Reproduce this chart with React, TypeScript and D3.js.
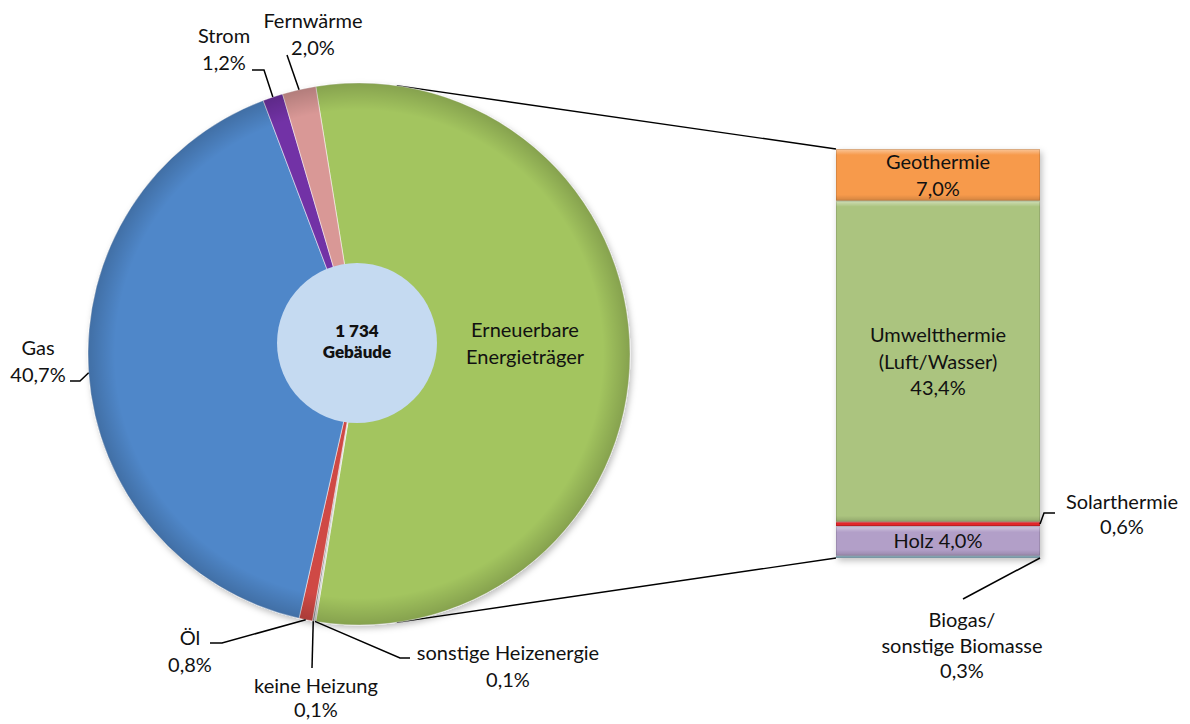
import React from 'react';
import * as d3 from 'd3';

// Pie: share of buildings by primary heating energy (%)
const pieLabels: string[] = ['Erneuerbare Energieträger', 'sonstige Heizenergie', 'keine Heizung', 'Öl', 'Gas', 'Strom', 'Fernwärme'];
const pieValues: number[] = [55.1, 0.1, 0.1, 0.8, 40.7, 1.2, 2.0];
const pieColors: string[] = ['#a3c55e', '#c9c9c9', '#7f7f7f', '#cf4a45', '#5087c9', '#7233a6', '#d99896'];
const pieTexts: string[] = ['', '0,1%', '0,1%', '0,8%', '40,7%', '1,2%', '2,0%'];

// Bar: breakdown of renewables (%)
const barLabels: string[] = ['Geothermie', 'Umweltthermie (Luft/Wasser)', 'Solarthermie', 'Holz', 'Biogas/ sonstige Biomasse'];
const barValues: number[] = [7.0, 43.4, 0.6, 4.0, 0.3];
const barColors: string[] = ['#f79a4c', '#abc47f', '#e2262c', '#b29fc8', '#8fb2c2'];
const barTexts: string[] = ['7,0%', '43,4%', '0,6%', '4,0%', '0,3%'];

const centerText: string[] = ['1 734', 'Gebäude'];

const width = 1190;
const height = 724;
const cx = 359;
const cy = 354;
const r = 271;
const font = 'Lato, "Open Sans", sans-serif';

export default function App() {
  const pie = d3.pie<number>().sort(null).value((d) => d);
  const span = (pieValues[0] / d3.sum(pieValues)) * Math.PI * 2;
  pie.startAngle(Math.PI / 2 - span / 2).endAngle(Math.PI / 2 - span / 2 + Math.PI * 2);
  const arcs = pie(pieValues);
  const arc = d3.arc<d3.PieArcDatum<number>>().innerRadius(0).outerRadius(r);

  const pt = (a: number, rr: number): [number, number] => [cx + rr * Math.sin(a), cy - rr * Math.cos(a)];
  const mid = (i: number) => (arcs[i].startAngle + arcs[i].endAngle) / 2;

  // bar scale
  const barX0 = 836;
  const barX1 = 1040;
  const total = d3.sum(barValues);
  const y = d3.scaleLinear().domain([0, total]).range([149, 558]);
  const cum = barValues.map((v, i) => d3.sum(barValues.slice(0, i)));

  const connA = 8 * Math.PI / 180;
  const topPt = pt(connA, r);
  const botPt = pt(Math.PI - connA, r);

  const line = d3.line();
  const ts = 20;

  const lbl = (x: number, yy: number, lines: string[], size = ts, weight = 400, lh = 26.5) => (
    <text x={x} y={yy} textAnchor="middle" fontSize={size} fontWeight={weight} fontFamily={font} fill="#111">
      {lines.map((l, i) => (
        <tspan key={i} x={x} dy={i === 0 ? 0 : lh}>{l}</tspan>
      ))}
    </text>
  );

  const leaders: [number, number][][] = [
    [pt(mid(6), r), [287, 55]],
    [pt(mid(5), r), [264, 70], [252, 70]],
    [pt(mid(4), r), [80, 381], [70, 381]],
    [pt(mid(3), r), [222, 643], [210, 643]],
    [pt(mid(2), r), [312, 668]],
    [pt(mid(1), r), [400, 658], [410, 658]],
    [[1040, y(cum[2] + barValues[2] / 2)], [1044, 513], [1055, 513]],
    [[1040, y(total)], [963, 599]],
  ];

  return (
    <svg width={width} height={height} style={{ display: 'block', position: 'absolute', left: 0, top: 0 }}>
      <defs>
        <radialGradient id="pieShade" cx={cx} cy={cy} r={r} gradientUnits="userSpaceOnUse">
          <stop offset="0.9" stopColor="#000" stopOpacity="0" />
          <stop offset="1" stopColor="#000" stopOpacity="0.18" />
        </radialGradient>
        <filter id="shadow" x="-10%" y="-10%" width="120%" height="120%">
          <feDropShadow dx="2" dy="3" stdDeviation="3" floodColor="#000" floodOpacity="0.25" />
        </filter>
        <linearGradient id="barTop" x1="0" x2="0" y1="0" y2="1">
          <stop offset="0" stopColor="#fff" stopOpacity="0.45" />
          <stop offset="1" stopColor="#fff" stopOpacity="0" />
        </linearGradient>
        <linearGradient id="barBot" x1="0" x2="0" y1="0" y2="1">
          <stop offset="0" stopColor="#000" stopOpacity="0" />
          <stop offset="1" stopColor="#000" stopOpacity="0.15" />
        </linearGradient>
      </defs>
      <rect width={width} height={height} fill="#fff" />

      {/* connector lines */}
      <path d={line([topPt, [barX0, y(0)]]) || ''} stroke="#000" strokeWidth={1.4} fill="none" />
      <path d={line([botPt, [barX0, y(total)]]) || ''} stroke="#000" strokeWidth={1.4} fill="none" />

      {/* pie */}
      <g transform={`translate(${cx},${cy})`} filter="url(#shadow)">
        {arcs.map((a, i) => (
          <path key={pieLabels[i]} d={arc(a) || ''} fill={pieColors[i]} stroke="#fff" strokeWidth={0.5} />
        ))}
      </g>
      <circle cx={cx} cy={cy} r={r} fill="url(#pieShade)" />
      <circle cx={357} cy={343} r={80} fill="#c5daf1" />
      {lbl(357, 337, centerText, 17, 800, 21)}

      {/* bar */}
      <g filter="url(#shadow)">
        {barValues.map((v, i) => (
          <rect key={barLabels[i]} x={barX0} width={barX1 - barX0} y={y(cum[i])} height={y(cum[i] + v) - y(cum[i])} fill={barColors[i]} />
        ))}
      </g>
      {barValues.map((v, i) => {
        const h = y(cum[i] + v) - y(cum[i]);
        const b = Math.min(6, h / 3);
        return (
          <g key={'h' + i}>
            <rect x={barX0} width={barX1 - barX0} y={y(cum[i])} height={b} fill="url(#barTop)" />
            <rect x={barX0} width={barX1 - barX0} y={y(cum[i]) + h - b} height={b} fill="url(#barBot)" />
            <rect x={barX0 + 0.5} width={barX1 - barX0 - 1} y={y(cum[i]) + 0.5} height={Math.max(h - 1, 0)} fill="none" stroke="#000" strokeOpacity={0.12} />
          </g>
        );
      })}

      {/* leaders */}
      {leaders.map((p, i) => (
        <path key={i} d={line(p) || ''} stroke="#000" strokeWidth={1.5} fill="none" />
      ))}

      {/* labels */}
      {lbl(525, 337, ['Erneuerbare', 'Energieträger'])}
      {lbl(313, 28, [pieLabels[6], pieTexts[6]])}
      {lbl(224, 43, [pieLabels[5], pieTexts[5]])}
      {lbl(38, 355, [pieLabels[4], pieTexts[4]])}
      {lbl(190, 645, [pieLabels[3], pieTexts[3]])}
      {lbl(316, 693, [pieLabels[2], pieTexts[2]], ts, 400, 24)}
      {lbl(508, 660, [pieLabels[1], pieTexts[1]])}

      {lbl(938, 169, [barLabels[0], barTexts[0]])}
      {lbl(938, 342, ['Umweltthermie', '(Luft/Wasser)', barTexts[1]])}
      {lbl(938, 548, [`${barLabels[3]} ${barTexts[3]}`])}
      {lbl(1122, 509, [barLabels[2], barTexts[2]], ts, 400, 25)}
      {lbl(962, 627, ['Biogas/', 'sonstige Biomasse', barTexts[4]], ts, 400, 25.5)}
    </svg>
  );
}
